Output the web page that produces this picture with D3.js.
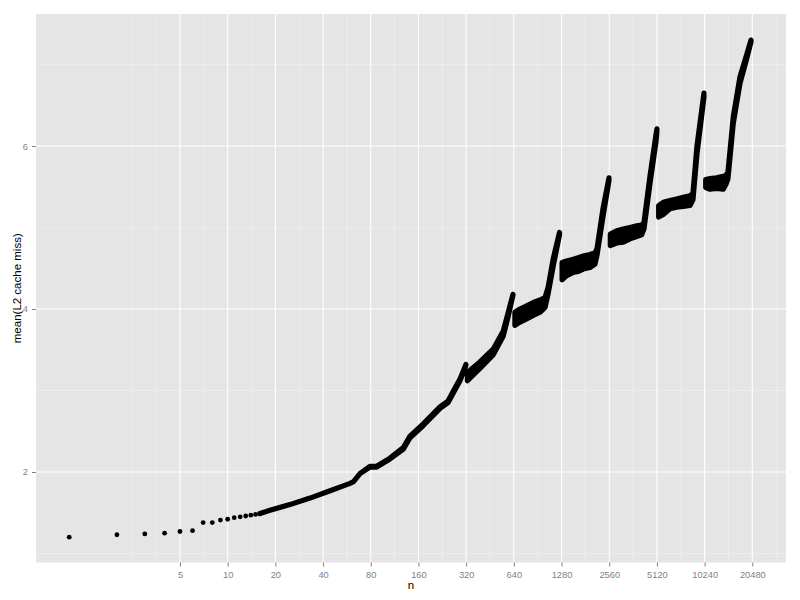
<!DOCTYPE html>
<html><head><meta charset="utf-8">
<script src="https://cdn.jsdelivr.net/npm/d3@7/dist/d3.min.js"></script>
<style>body{margin:0;background:#fff}</style>
</head><body>
<svg id="c" width="800" height="600"></svg>
<script>
// ---- data ----
const xTicks = [5,10,20,40,80,160,320,640,1280,2560,5120,10240,20480];
const xMinor = [2.5,3.54,7.07,14.14,28.28,56.57,113.1,226.3,452.5,905.1,1810,3620,7241,14482,28963];
const yTicks = [2,4,6];
const yMinor = [1,3,5,7];

// individually visible points, n = 1..16
const dotN = [1,2,3,4,5,6,7,8,9,10,11,12,13,14,15,16];
const dotV = [1.20,1.23,1.24,1.25,1.27,1.28,1.38,1.38,1.41,1.42,1.44,1.45,1.46,1.47,1.48,1.49];

// dense point cloud for larger n: lower / upper envelope (null = gap between runs)
const bandN  = [16,18.5,24.7,33.1,44.3,59.2,62.1,68.4,79.1,87.2,105.8,128.4,141.5,171.6,218.8,245.8,265.4,292.6,319,
                null,
                326,391,475,549,588,632,
                null,
                650,700,771,849,936,1007,1054,1135,1243,
                null,
                1290,1380,1518,1632,1756,1935,2081,2143,2337,2551,
                null,
                2600,2852,3139,3461,3814,4101,4240,4628,5050,5120,
                null,
                5250,5615,6186,6823,7508,8278,8644,9160,10140,
                null,
                10400,11070,12195,13430,13960,14375,15530,17120,18860,20090];
const bandLo = [1.49,1.53,1.60,1.68,1.77,1.86,1.88,1.98,2.06,2.06,2.16,2.28,2.42,2.57,2.78,2.85,2.97,3.12,3.31,
                null,
                3.12,3.27,3.44,3.67,3.90,4.17,
                null,
                3.80,3.84,3.88,3.92,3.96,4.02,4.19,4.53,4.91,
                null,
                4.36,4.41,4.45,4.46,4.49,4.51,4.55,4.66,5.13,5.58,
                null,
                4.78,4.81,4.82,4.86,4.89,4.91,4.98,5.54,6.05,6.18,
                null,
                5.13,5.16,5.23,5.25,5.26,5.27,5.34,5.90,6.60,
                null,
                5.49,5.47,5.48,5.47,5.53,5.60,6.28,6.77,7.07,7.28];
const bandHi = [1.49,1.53,1.60,1.68,1.77,1.86,1.88,1.98,2.07,2.07,2.17,2.30,2.44,2.59,2.80,2.87,2.99,3.14,3.32,
                null,
                3.22,3.35,3.51,3.73,3.95,4.18,
                null,
                3.96,4.00,4.04,4.08,4.11,4.14,4.27,4.62,4.94,
                null,
                4.57,4.59,4.61,4.63,4.65,4.67,4.69,4.74,5.23,5.61,
                null,
                4.92,4.96,4.98,5.00,5.02,5.03,5.06,5.63,6.14,6.21,
                null,
                5.27,5.31,5.33,5.35,5.37,5.39,5.42,6.00,6.65,
                null,
                5.59,5.60,5.61,5.63,5.64,5.68,6.36,6.85,7.12,7.30];

// ---- layout ----
const P = {l:36, r:786, t:14, b:562.5};
const FONT = "'Liberation Sans', Arial, sans-serif";
const svg = d3.select("#c");
const x = d3.scaleLog().base(2).domain([0.6171, 33410]).range([P.l, P.r]);
const y = d3.scaleLinear().domain([0.8896, 7.620]).range([P.b, P.t]);

svg.append("rect").attr("x",P.l).attr("y",P.t).attr("width",P.r-P.l).attr("height",P.b-P.t).attr("fill","#e5e5e5");

const g = svg.append("g");
g.selectAll("line.xm").data(xMinor).join("line").attr("class","xm")
  .attr("x1",d=>x(d)).attr("x2",d=>x(d)).attr("y1",P.t).attr("y2",P.b)
  .attr("stroke","#f2f2f2").attr("stroke-width",0.6);
g.selectAll("line.ym").data(yMinor).join("line").attr("class","ym")
  .attr("y1",d=>y(d)).attr("y2",d=>y(d)).attr("x1",P.l).attr("x2",P.r)
  .attr("stroke","#f2f2f2").attr("stroke-width",0.6);
g.selectAll("line.xM").data(xTicks).join("line").attr("class","xM")
  .attr("x1",d=>x(d)).attr("x2",d=>x(d)).attr("y1",P.t).attr("y2",P.b)
  .attr("stroke","#ffffff").attr("stroke-width",1.1);
g.selectAll("line.yM").data(yTicks).join("line").attr("class","yM")
  .attr("y1",d=>y(d)).attr("y2",d=>y(d)).attr("x1",P.l).attr("x2",P.r)
  .attr("stroke","#ffffff").attr("stroke-width",1.1);

// band of dense points
const band = bandN.map((n,i)=>({n, lo:bandLo[i], hi:bandHi[i]}));
const area = d3.area().defined(d=>d.n!=null)
  .x(d=>x(d.n)).y0(d=>y(d.lo)).y1(d=>y(d.hi));
svg.append("path").attr("d",area(band))
  .attr("fill","#000").attr("stroke","#000").attr("stroke-width",5.2)
  .attr("stroke-linejoin","round");

// single dots
svg.selectAll("circle.d").data(dotN).join("circle").attr("class","d")
  .attr("cx",d=>x(d)).attr("cy",(d,i)=>y(dotV[i])).attr("r",2.4).attr("fill","#000");

// axes
const ax = svg.append("g").attr("transform",`translate(0,${P.b})`)
  .call(d3.axisBottom(x).tickValues(xTicks).tickFormat(d3.format("d")).tickSize(4).tickPadding(5));
const ay = svg.append("g").attr("transform",`translate(${P.l},0)`)
  .call(d3.axisLeft(y).tickValues(yTicks).tickFormat(d3.format("d")).tickSize(4).tickPadding(4));
[ax,ay].forEach(a=>{
  a.select(".domain").remove();
  a.selectAll(".tick line").attr("stroke","#7f7f7f");
  a.selectAll(".tick text").attr("fill","#7f7f7f")
    .style("font-family",FONT).style("font-size","9.3px");
});

svg.append("text").attr("x",(P.l+P.r)/2).attr("y",589).attr("text-anchor","middle").attr("fill","#000")
  .style("font-family",FONT).style("font-size","11.5px").text("n");
svg.append("text").attr("transform",`translate(21,${(P.t+P.b)/2}) rotate(-90)`).attr("text-anchor","middle").attr("fill","#000")
  .style("font-family",FONT).style("font-size","11.5px").text("mean(L2 cache miss)");
</script>
</body></html>
